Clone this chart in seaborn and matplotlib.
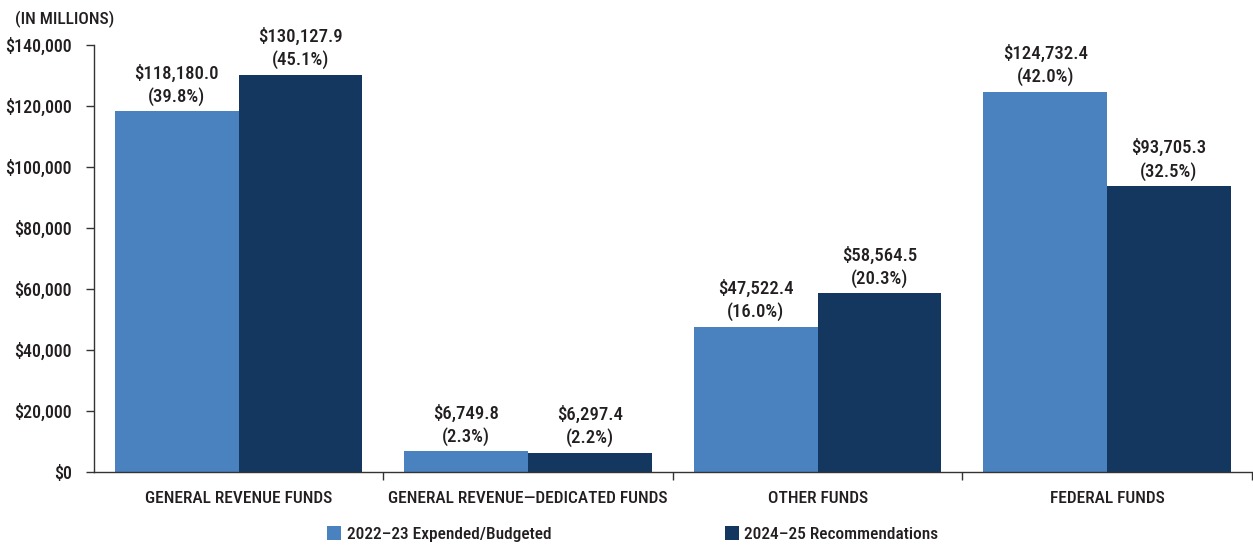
import matplotlib
matplotlib.use("Agg")
import matplotlib.pyplot as plt
import seaborn as sns
import pandas as pd
import numpy as np
from matplotlib import font_manager as fm
from matplotlib.patches import Patch

categories = ["GENERAL REVENUE FUNDS", "GENERAL REVENUE\u2014DEDICATED FUNDS", "OTHER FUNDS", "FEDERAL FUNDS"]
series = ["2022\u201323 Expended/Budgeted", "2024\u201325 Recommendations"]
values_2223 = [118180.0, 6749.8, 47522.4, 124732.4]
values_2425 = [130127.9, 6297.4, 58564.5, 93705.3]
pct_2223 = [39.8, 2.3, 16.0, 42.0]
pct_2425 = [45.1, 2.2, 20.3, 32.5]
yticks = [0, 20000, 40000, 60000, 80000, 100000, 120000, 140000]
colors = ["#4a82c0", "#14375f"]

sns.set_theme(style="white")
entries = [(f.name, f.stretch) for f in fm.fontManager.ttflist]
names = {n for n, _ in entries}
fam = None
for cand in ["Liberation Sans Narrow", "Roboto Condensed", "Open Sans Condensed", "DejaVu Sans Condensed", "Noto Sans Condensed"]:
    if cand in names:
        fam = cand
        break
stretch = "normal"
if fam is None:
    fam = "DejaVu Sans"
    if any(n == "DejaVu Sans" and s in ("condensed", "semi-condensed") for n, s in entries):
        stretch = "condensed"
    else:
        for n, s in entries:
            if s in ("condensed", "semi-condensed", "extra-condensed") and n in ("Roboto", "Open Sans", "Noto Sans", "Inter", "Lato"):
                fam = n
                stretch = "condensed"
                break
plt.rcParams["font.family"] = [fam, "DejaVu Sans"]
plt.rcParams["font.stretch"] = stretch
plt.rcParams["font.weight"] = "medium"
txt = "#231f20"

df = pd.DataFrame({
    "category": categories * 2,
    "series": [series[0]] * 4 + [series[1]] * 4,
    "value": values_2223 + values_2425,
})

fig = plt.figure(figsize=(12.53, 5.48), dpi=100)
ax = fig.add_axes([0.075, 0.1387, 0.924, 0.7793])
sns.barplot(data=df, x="category", y="value", hue="series", order=categories,
            hue_order=series, palette=colors, width=0.855, ax=ax,
            edgecolor="none", linewidth=0, saturation=1, legend=False)

ax.set_ylim(0, 140000)
ax.set_xlim(-0.5, 3.5)
ax.set_yticks(yticks)
ax.set_yticklabels([f"${v:,.0f}" for v in yticks], fontsize=13, color=txt)
ax.set_xticks(range(4))
ax.set_xticklabels(categories, fontsize=12.5, color=txt)
ax.tick_params(axis="x", which="major", length=0, pad=14)
ax.set_xticks([0.5, 1.5, 2.5, 3.5], minor=True)
ax.tick_params(axis="x", which="minor", length=6, width=1, color="#333333", direction="out", bottom=True)
ax.tick_params(axis="y", length=6, width=1, color="#333333", direction="out", left=True, pad=10)
ax.set_xlabel("")
ax.set_ylabel("")
for s in ["top", "right"]:
    ax.spines[s].set_visible(False)
for s in ["left", "bottom"]:
    ax.spines[s].set_color("#333333")
    ax.spines[s].set_linewidth(1)

vals = [values_2223, values_2425]
pcts = [pct_2223, pct_2425]
for k, cont in enumerate(ax.containers):
    for i, bar in enumerate(cont):
        x = bar.get_x() + bar.get_width() / 2
        y = bar.get_height()
        ax.annotate(f"${vals[k][i]:,.1f}\n({pcts[k][i]:.1f}%)", (x, y), xytext=(0, 4),
                    textcoords="offset points", ha="center", va="bottom",
                    fontsize=13.5, color=txt, linespacing=1.3)

fig.text(0.012, 0.965, "(IN MILLIONS)", fontsize=12.5, color=txt, ha="left", va="center")

handles = [Patch(facecolor=c, edgecolor="none") for c in colors]
fig.legend(handles, series, loc="center", bbox_to_anchor=(0.505, 0.025), ncol=2,
           frameon=False, fontsize=12.5, handlelength=0.8, handleheight=0.8,
           handletextpad=0.3, columnspacing=10, labelcolor=txt)

fig.savefig("out.png", dpi=100)
